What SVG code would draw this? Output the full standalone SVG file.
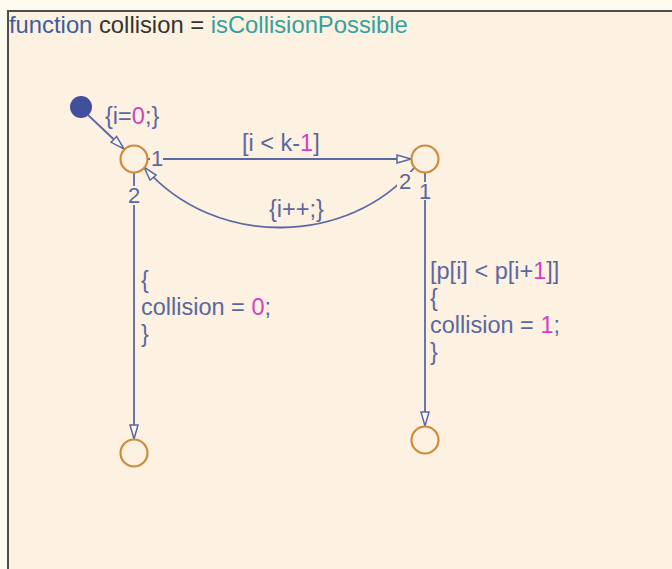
<svg xmlns="http://www.w3.org/2000/svg" width="672" height="569" viewBox="0 0 672 569">
<style>
  .lbl { font-family: "Liberation Sans", Arial, sans-serif; font-size: 23.5px; fill: #5b679f; }
  .num { fill: #d23fc4; }
  .idx { font-family: "Liberation Sans", Arial, sans-serif; font-size: 22px; fill: #5b679f; text-anchor: middle; }
  .junc { fill: #fdf2e1; stroke: #cf8a3c; stroke-width: 2.2; }
  .tr { fill: none; stroke: #5b68a6; stroke-width: 1.8; }
  .mask { fill: #fdf2e1; }
</style>
<defs>
  <marker id="arr" viewBox="0 0 16 10" refX="15" refY="5" markerWidth="16" markerHeight="10" markerUnits="userSpaceOnUse" orient="auto">
    <path d="M1,1 L15,5 L1,9 Z" fill="#fdf7ee" stroke="#5b68a6" stroke-width="1.5" stroke-linejoin="miter"/>
  </marker>
</defs>
<rect x="0" y="0" width="672" height="569" fill="#fdfcef"/>
<rect x="8" y="11" width="680" height="580" fill="#fdf2e1" stroke="#4d4d4d" stroke-width="2"/>
<text x="9" y="33" font-family="'Liberation Sans', Arial, sans-serif" font-size="23.8" fill="#333333"><tspan fill="#3d5e99">function</tspan> collision = <tspan fill="#35a09c">isCollisionPossible</tspan></text>

<g id="connectors">
  <circle id="default-dot" cx="81" cy="107" r="11" fill="#424f9c"/>
  <path class="tr" d="M88,115 L124,149" marker-end="url(#arr)"/>
  <path class="tr" d="M147,159 L411,159" marker-end="url(#arr)"/>
  <path class="tr" d="M414,168 C350,245 215,250 144,167" marker-end="url(#arr)"/>
  <path class="tr" d="M134,172 L134,439" marker-end="url(#arr)"/>
  <path class="tr" d="M425,172 L425,426" marker-end="url(#arr)"/>

  <text class="lbl" x="105" y="124">{i=<tspan class="num">0</tspan>;}</text>
  <text class="lbl" x="242" y="151">[i &lt; k-<tspan class="num">1</tspan>]</text>
  <text class="lbl" x="269" y="217">{i++;}</text>
  <text class="lbl" x="141" y="288">{</text>
  <text class="lbl" x="141" y="315">collision = <tspan class="num">0</tspan>;</text>
  <text class="lbl" x="141" y="342">}</text>
  <text class="lbl" x="430" y="279">[p[i] &lt; p[i+<tspan class="num">1</tspan>]]</text>
  <text class="lbl" x="430" y="306">{</text>
  <text class="lbl" x="430" y="333">collision = <tspan class="num">1</tspan>;</text>
  <text class="lbl" x="430" y="360">}</text>

  <rect class="mask" x="150" y="149" width="13" height="18"/>
  <text class="idx" x="157" y="166">1</text>
  <rect class="mask" x="126" y="186" width="16" height="19"/>
  <text class="idx" x="134" y="203">2</text>
  <rect class="mask" x="397" y="172" width="16" height="19"/>
  <text class="idx" x="405" y="189">2</text>
  <rect class="mask" x="418" y="182" width="14" height="18"/>
  <text class="idx" x="425" y="199">1</text>
</g>

<g id="junction-1"><circle class="junc" cx="134" cy="159" r="13.5"/></g>
<g id="junction-2"><circle class="junc" cx="425" cy="159" r="13.5"/></g>
<g id="junction-3"><circle class="junc" cx="134" cy="453" r="13.5"/></g>
<g id="junction-4"><circle class="junc" cx="425" cy="440" r="13.5"/></g>
</svg>
